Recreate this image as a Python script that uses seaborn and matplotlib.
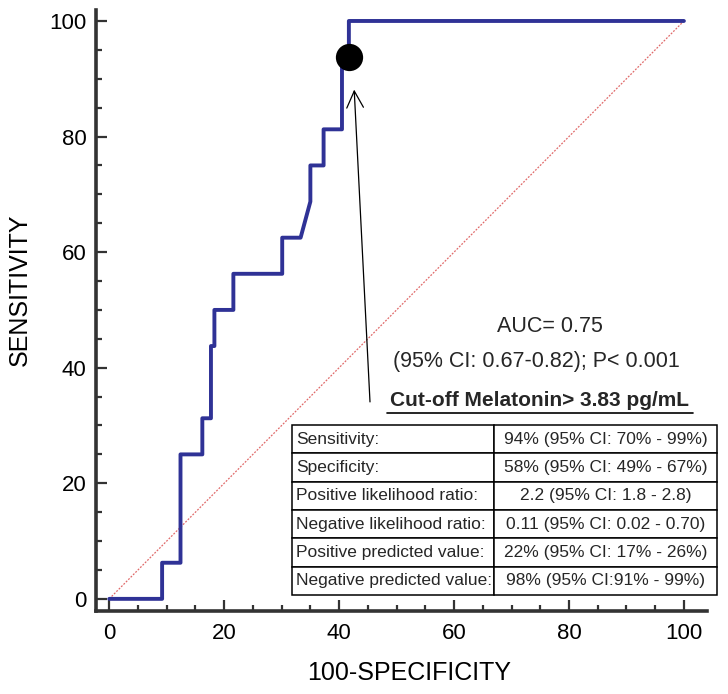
import pandas as pd
import seaborn as sns
import matplotlib.pyplot as plt
from matplotlib.ticker import MultipleLocator

# Curva ROC (puntos de la escalera)
fpr = [0, 9.2, 9.2, 12.4, 12.4, 16.2, 16.2, 17.7, 17.7, 18.3, 18.3, 21.6, 21.6,
       30.1, 30.1, 33.3, 35.0, 35.0, 37.3, 37.3, 40.5, 40.5, 41.7, 41.7, 100]
tpr = [0, 0, 6.25, 6.25, 25, 25, 31.25, 31.25, 43.75, 43.75, 50, 50, 56.25,
       56.25, 62.5, 62.5, 68.75, 75, 75, 81.25, 81.25, 93.75, 93.75, 100, 100]

diag_x = [0, 100]
diag_y = [0, 100]

cutoff_x = [41.7]
cutoff_y = [93.75]

auc_texto = "AUC= 0.75"
ic_texto = "(95% CI: 0.67-0.82); P< 0.001"
corte_texto = "Cut-off Melatonin> 3.83 pg/mL"

filas = ["Sensitivity:", "Specificity:", "Positive likelihood ratio:",
         "Negative likelihood ratio:", "Positive predicted value:",
         "Negative predicted value:"]
valores = ["94% (95% CI: 70% - 99%)", "58% (95% CI: 49% - 67%)",
           "2.2 (95% CI: 1.8 - 2.8)", "0.11 (95% CI: 0.02 - 0.70)",
           "22% (95% CI: 17% - 26%)", "98% (95% CI:91% - 99%)"]

sns.set_theme(style="ticks")
plt.rcParams['font.family'] = ['Liberation Sans', 'DejaVu Sans']

df = pd.DataFrame({'fpr': fpr, 'tpr': tpr})

fig = plt.figure(figsize=(7.28, 6.94), dpi=100)
ax = fig.add_axes([0.1319, 0.1196, 0.971 - 0.1319, 0.9856 - 0.1196])

# diagonal de referencia
sns.lineplot(x=diag_x, y=diag_y, ax=ax, color='#e06a6a', lw=0.9,
             linestyle=(0, (1.5, 1.2)), sort=False, estimator=None)
# curva ROC
sns.lineplot(data=df, x='fpr', y='tpr', ax=ax, color='#2f3296', lw=2.8,
             sort=False, estimator=None)
# punto de corte
sns.scatterplot(x=cutoff_x, y=cutoff_y, ax=ax, color='black', s=330,
                edgecolor='black', zorder=5)

ax.annotate('', xy=(42.6, 88.6), xytext=(45.4, 33.6),
            arrowprops=dict(arrowstyle='->,head_length=0.6,head_width=0.3',
                            color='black', lw=0.9, mutation_scale=20))

ax.set_xlim(-2.3, 104)
ax.set_ylim(-2.1, 101.9)
ax.xaxis.set_major_locator(MultipleLocator(20))
ax.xaxis.set_minor_locator(MultipleLocator(5))
ax.yaxis.set_major_locator(MultipleLocator(20))
ax.yaxis.set_minor_locator(MultipleLocator(5))

for lado in ['top', 'right']:
    ax.spines[lado].set_visible(False)
for lado in ['left', 'bottom']:
    ax.spines[lado].set_color('#333333')
    ax.spines[lado].set_linewidth(2.6)

ax.tick_params(which='major', direction='in', length=8, width=1.6,
               color='#333333', labelsize=16, labelcolor='black')
ax.tick_params(axis='x', which='major', pad=9)
ax.tick_params(axis='y', which='major', pad=7)
ax.tick_params(which='minor', direction='in', length=4.5, width=1.6,
               color='#333333')

ax.set_xlabel('100-SPECIFICITY', fontsize=18, color='black')
ax.set_ylabel('SENSITIVITY', fontsize=18, color='black')
ax.xaxis.label.set_va('center')
ax.yaxis.label.set_va('center')
ax.xaxis.set_label_coords(0.512, -0.103)
ax.yaxis.set_label_coords(-0.124, 0.534)

ax.text(76.7, 47.2, auc_texto, ha='center', va='center', fontsize=15.5)
ax.text(74.4, 41.0, ic_texto, ha='center', va='center', fontsize=15.5)
ax.text(74.8, 34.4, corte_texto, ha='center', va='center', fontsize=15,
        fontweight='bold')
ax.plot([48.3, 101.6], [32.2, 32.2], color='black', lw=1.2, clip_on=False)

tabla = ax.table(cellText=[[f, v] for f, v in zip(filas, valores)],
                 colWidths=[0.475, 0.525],
                 bbox=[0.3208, 0.0266, 1.0164 - 0.3208, 0.3095 - 0.0266])
tabla.auto_set_font_size(False)
tabla.set_fontsize(12.5)
for (r, c), celda in tabla.get_celld().items():
    celda.set_edgecolor('black')
    celda.set_linewidth(1.1)
    celda.set_facecolor('white')
    if c == 0:
        celda.set_text_props(ha='left')
        celda.PAD = 0.02
    else:
        celda.set_text_props(ha='center')

fig.savefig('out.png', dpi=100)
